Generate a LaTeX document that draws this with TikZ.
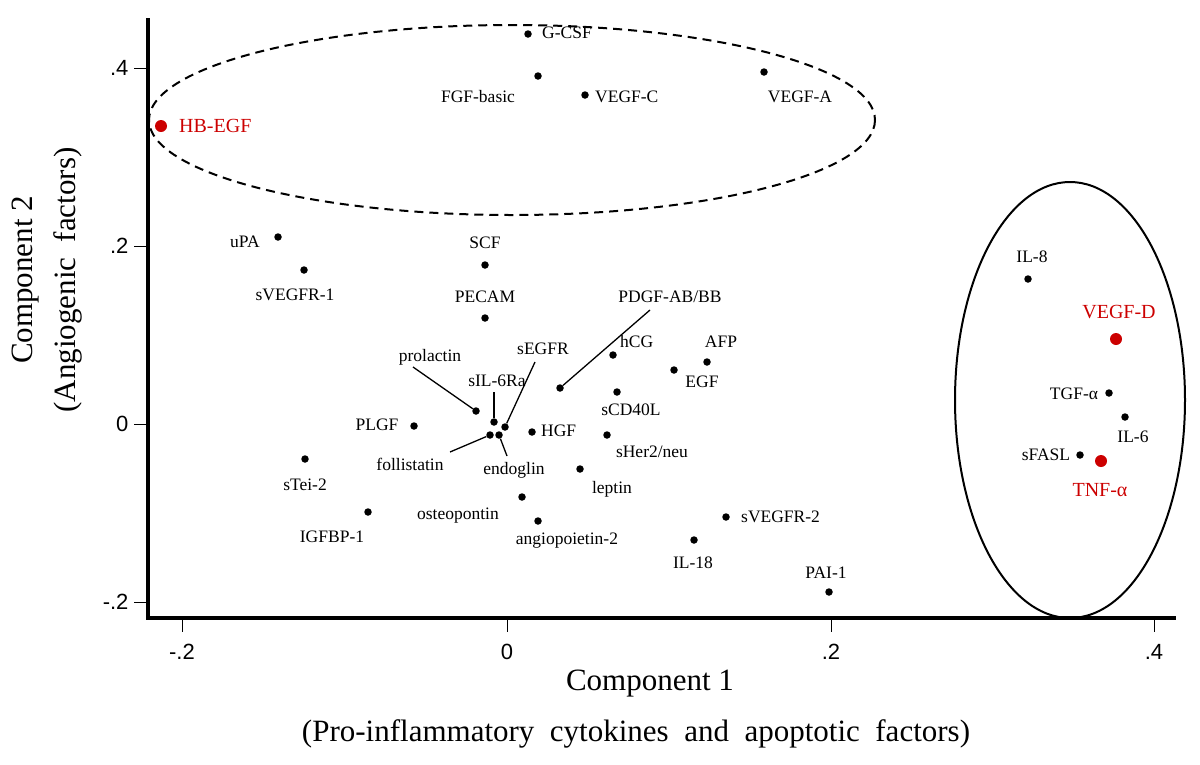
\documentclass[tikz,border=0pt]{standalone}
\usepackage{fontspec}
\setmainfont{Liberation Serif}
\newfontfamily\ticksf{Liberation Sans}
\begin{document}
\begin{tikzpicture}[x=1pt,y=-1pt,
  dt/.style={circle,fill=black,inner sep=0pt,minimum size=7.5pt},
  rdt/.style={circle,fill=red!80!black,inner sep=0pt,minimum size=12pt},
  lb/.style={inner sep=1pt,font=\fontsize{17.5}{19}\selectfont},
  rlb/.style={lb,text=red!80!black,font=\fontsize{20}{22}\selectfont},
  tk/.style={font=\ticksf\fontsize{22}{24}\selectfont},
  ax/.style={font=\fontsize{31}{34}\selectfont},
  pt/.style={line width=1.3pt}]
\useasboundingbox (0,0) rectangle (1200,764);
% axes
\draw[line width=4pt] (148,18) -- (148,618) -- (1176,618);
\foreach \x/\t in {182/-.2,507/0,831/.2,1154/.4}{
  \draw[line width=1pt] (\x,618) -- (\x,632);
  \node[tk] at (\x,652) {\t};}
\foreach \y/\t in {68/.4,246/.2,424/0,602/-.2}{
  \draw[line width=1pt] (148,\y) -- (134,\y);
  \node[tk,anchor=east] at (132,\y) {\t};}
\node[ax,rotate=90] at (26,280) {Component 2};
\node[ax,rotate=90] at (68,280) {(Angiogenic\ \ factors)};
\node[ax] at (650,684) {Component 1};
\node[ax] at (636,734) {(Pro-inflammatory\ \ cytokines\ \ and\ \ apoptotic\ \ factors)};
% ellipses
\draw[dashed,line width=2pt,dash pattern=on 9pt off 6pt] (512,120) ellipse [x radius=363, y radius=95];
\draw[line width=2pt] (1070,400) ellipse [x radius=115, y radius=218];
% top group
\node[dt] (gcsf) at (528,34) {}; \node[lb,anchor=west] at (541,33) {G-CSF};
\node[dt] (fgf) at (538,76) {}; \node[lb] at (478,97) {FGF-basic};
\node[dt] (vegfc) at (585,95) {}; \node[lb,anchor=west] at (594,97) {VEGF-C};
\node[dt] (vegfa) at (764,72) {}; \node[lb] at (800,97) {VEGF-A};
\node[rdt] (hbegf) at (161,126) {}; \node[rlb,anchor=west] at (178,126) {HB-EGF};
% middle
\node[dt] (upa) at (278,237) {}; \node[lb] at (245,242) {uPA};
\node[dt] (svegfr1) at (304,270) {}; \node[lb] at (295,295) {sVEGFR-1};
\node[dt] (scf) at (485,265) {}; \node[lb] at (485,243) {SCF};
\node[dt] (pecam) at (485,318) {}; \node[lb] at (485,297) {PECAM};
\node[dt] (pdgf) at (560,388) {}; \node[lb] (pdgfl) at (670,297) {PDGF-AB/BB};
\draw[pt] (650,310) -- (pdgf);
\node[dt] (hcg) at (613,355) {}; \node[lb,anchor=west] at (619,342) {hCG};
\node[dt] (afp) at (707,362) {}; \node[lb] at (721,342) {AFP};
\node[dt] (egf) at (674,370) {}; \node[lb] at (702,382) {EGF};
\node[dt] (sil6) at (494,422) {};
\node[dt] (segfr) at (505,427) {};
\node[dt] (foll) at (490,435) {};
\node[dt] (endo) at (499,435) {};
\node[dt] (prol) at (476,411) {};
\node[lb] (segfrl) at (543,349) {sEGFR};
\draw[pt] (535,362) -- (segfr);
\node[lb] (prl) at (430,357) {prolactin};
\draw[pt] (413,367) -- (prol);
\node[lb] at (497,381) {sIL-6Ra};
\draw[pt] (494,392) -- (sil6);
\node[lb] at (410,464) {follistatin};
\draw[pt] (450,452) -- (foll);
\node[lb] at (514,470) {endoglin};
\draw[pt] (endo) -- (507,456);
\node[dt] (plgf) at (414,426) {}; \node[lb] at (377,425) {PLGF};
\node[dt] (hgf) at (532,432) {}; \node[lb,anchor=west] at (540,431) {HGF};
\node[dt] (scd) at (617,392) {}; \node[lb] at (631,410) {sCD40L};
\node[dt] (sher) at (607,435) {}; \node[lb] at (652,452) {sHer2/neu};
\node[dt] (stei) at (305,459) {}; \node[lb] at (305,485) {sTei-2};
\node[dt] (lep) at (580,469) {}; \node[lb] at (612,489) {leptin};
\node[dt] (osteo) at (522,497) {}; \node[lb] at (458,516) {osteopontin};
\node[dt] (igf) at (368,512) {}; \node[lb] at (332,537) {IGFBP-1};
\node[dt] (ang) at (538,521) {}; \node[lb] at (567,541) {angiopoietin-2};
\node[dt] (svegfr2) at (726,517) {}; \node[lb,anchor=west] at (740,517) {sVEGFR-2};
\node[dt] (il18) at (694,540) {}; \node[lb] at (693,563) {IL-18};
\node[dt] (pai) at (829,592) {}; \node[lb] at (826,573) {PAI-1};
% right group
\node[dt] (il8) at (1028,279) {}; \node[lb] at (1032,257) {IL-8};
\node[rdt] (vegfd) at (1116,339) {}; \node[rlb] at (1119,312) {VEGF-D};
\node[dt] (tgf) at (1109,393) {}; \node[lb] at (1074,394) {TGF-α};
\node[dt] (il6) at (1125,417) {}; \node[lb] at (1133,437) {IL-6};
\node[dt] (sfasl) at (1080,455) {}; \node[lb] at (1046,455) {sFASL};
\node[rdt] (tnf) at (1101,461) {}; \node[rlb] at (1100,490) {TNF-α};
\end{tikzpicture}
\end{document}
